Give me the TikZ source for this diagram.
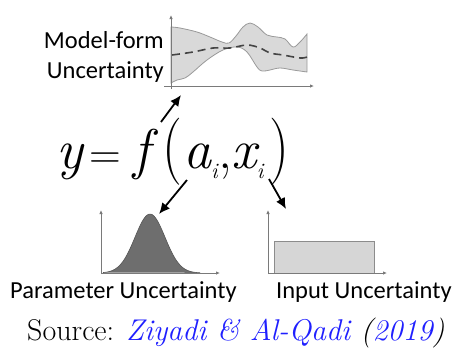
\documentclass[tikz,border=0pt]{standalone}
\usepackage{fontspec}
\usepackage{tikz}
\usetikzlibrary{arrows.meta}
\newfontfamily\calib{Carlito}
\newcommand\subi{\raisebox{-10bp}{\fontsize{22bp}{22bp}\selectfont\itshape i}}
\newcommand\bigpar[1]{\scalebox{1}[1.2]{\upshape #1}}
\definecolor{Band}{HTML}{D9D9D9}
\definecolor{BandEdge}{HTML}{9A9A9A}
\definecolor{Bell}{HTML}{6E6E6E}
\definecolor{BellEdge}{HTML}{555555}
\definecolor{Box}{HTML}{D6D6D6}
\definecolor{BoxEdge}{HTML}{8C8C8C}
\definecolor{Axis}{HTML}{7A7A7A}
\definecolor{Mean}{HTML}{444444}
\definecolor{Cite}{HTML}{1F1FFF}

\begin{document}
\begin{tikzpicture}[
    x=1bp,y=-1bp,
    axis/.style={Axis,line width=0.8bp,-{Latex[length=4bp,width=3.5bp]}},
    arrow/.style={black,line width=1.8bp,-{Latex[length=11bp,width=10bp]}},
    lbl/.style={font=\calib\fontsize{24.5bp}{28bp}\selectfont,inner sep=0pt}
  ]
    \useasboundingbox (0,0) rectangle (454,347);

    \draw[BandEdge,fill=Band,line width=0.8bp]
      plot[smooth,tension=0.6] coordinates {(171,27) (180,28) (197,32) (210,37) (222,42)
        (229,43) (236,36) (243,27) (250,23) (258,27) (267,35) (277,37) (285,39) (293,47)
        (300,42) (307,34)}
      -- plot[smooth,tension=0.6] coordinates {(307,72) (293,70) (280,68) (270,70)
        (262,71) (257,67) (247,52) (237,47) (223,50) (207,60) (193,72) (185,78) (177,80)
        (171,83)} -- cycle;
    \draw[Mean,line width=1.6bp,dash pattern=on 8bp off 5bp]
      plot[smooth,tension=0.6] coordinates {(172,55) (193,52) (213,48) (230,48) (247,45)
        (260,48) (270,53) (283,55) (300,58) (307,57)};
    \draw[axis] (171,89) -- (171,15);
    \draw[axis] (164,86) -- (314,86);

    \fill[Bell] plot[domain=103:200,samples=60] (\x,{273-59*exp(-((\x-150)^2)/450)});
    \draw[BellEdge,line width=0.6bp] plot[domain=103:200,samples=60] (\x,{273-59*exp(-((\x-150)^2)/450)});
    \draw[axis] (101,274) -- (101,210);
    \draw[axis] (101,273) -- (220,273);

    \draw[BoxEdge,fill=Box,line width=0.8bp] (274,273) rectangle (374,241);
    \draw[axis] (268,274) -- (268,210);
    \draw[axis] (268,273) -- (387,273);

    \node[lbl,anchor=base east] (mf) at (164,48) {Model-form};
    \node[lbl,anchor=base east] (mu) at (164,78) {Uncertainty};
    \node[lbl,anchor=base west] (pu) at (10,298) {Parameter Uncertainty};
    \node[lbl,anchor=base west] (iu) at (276,298) {Input Uncertainty};

    \node[anchor=base west,inner sep=0pt,font=\fontsize{56bp}{56bp}\selectfont\itshape] (eq) at (56,168)
      {y\hspace{7bp}{\upshape\fontsize{44bp}{44bp}\selectfont=}\hspace{12bp}f\hspace{12bp}\bigpar{(}\hspace{1bp}a\subi
       \hspace{1bp}{\upshape,}\hspace{-1bp}x\subi\hspace{6bp}\bigpar{)}};

    \node[anchor=base west,inner sep=0pt,font=\fontsize{30bp}{32bp}\selectfont] (src) at (27,340)
      {Source: \textit{\textcolor{Cite}{Ziyadi \& Al-Qadi} (\textcolor{Cite}{2019})}};

    \coordinate (topT) at (161,122);
    \coordinate (topH) at (181,95);
    \coordinate (leftT) at (187,180);
    \coordinate (leftH) at (159,214);
    \coordinate (rightT) at (269,179);
    \coordinate (rightH) at (286,209);
    \draw[arrow] (topT) -- (topH);
    \draw[arrow] (leftT) -- (leftH);
    \draw[arrow] (rightT) -- (rightH);
\end{tikzpicture}
\end{document}
